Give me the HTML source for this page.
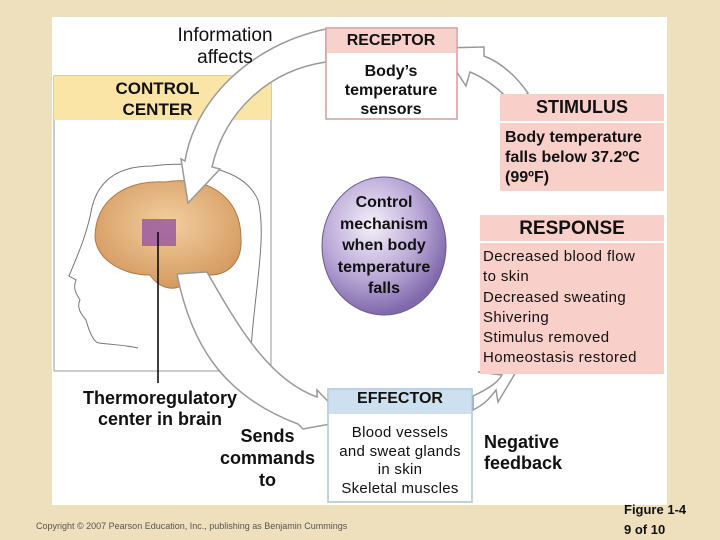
<!DOCTYPE html>
<html><head><style>
body{margin:0;width:720px;height:540px;background:#efe0bd;position:relative;overflow:hidden;font-family:"Liberation Sans",Arial,sans-serif;}
.a{position:absolute;}
.t{position:absolute;text-align:center;font-weight:bold;color:#111;}
</style></head><body>
<div class="a" style="left:52px;top:17px;width:615px;height:488px;background:#fff"></div>
<svg class="a" style="left:0;top:0" width="720" height="540">
<defs>
<radialGradient id="g" cx="40%" cy="35%" r="65%"><stop offset="0" stop-color="#f4f0fa"/><stop offset="0.6" stop-color="#b9a8d6"/><stop offset="1" stop-color="#7f68ab"/></radialGradient>
<radialGradient id="b" cx="50%" cy="40%" r="60%"><stop offset="0" stop-color="#f3cfa0"/><stop offset="1" stop-color="#d49a60"/></radialGradient>
</defs>
<rect x="54" y="76" width="217" height="295" fill="#fff" stroke="#999"/>
<rect x="54" y="76" width="217" height="44" fill="#fbe5a6"/>
<path d="M92,207 C100,175 125,166 152,166 C200,160 245,170 258,200 C268,240 252,300 250,371" fill="none" stroke="#777"/>
<path d="M92,207 C88,230 80,250 69,276 L76,280 C72,290 78,296 80,300 C76,308 82,315 86,320 C90,335 95,343 99,343 C115,345 125,345 138,348" fill="none" stroke="#777"/>
<path d="M95,238 C95,200 125,180 165,182 C205,175 242,195 241,240 C242,262 228,275 210,275 C205,285 192,292 185,282 C178,292 160,290 150,275 C125,275 98,262 95,238 Z" fill="url(#b)" stroke="#b07848"/>
<rect x="142" y="219" width="34" height="27" fill="#9b5aa0" opacity="0.85"/>
<line x1="158" y1="232" x2="158" y2="383" stroke="#000" stroke-width="1.5"/>
<g fill="#fff" stroke="#999" stroke-width="1.5">
<path d="M326,29 C250,45 195,100 185,161 L181,159 L188,203 L220,169 L212,167 C225,110 270,70 326,62 Z"/>
<path d="M177,274 C190,340 220,395 298,424 L303,429 L347,421 L317,390 L317,397 C270,380 240,330 207,272 Z"/>
<path d="M473,410 L473,396 C490,388 498,382 502,375 L478,372 L519,367 L498,402 L496,390 C490,398 485,404 473,410 Z"/>
<path d="M528,93 C515,75 500,62 484,56 L484,47 L441,48 L466,86 L470,72 C490,80 505,95 514,105 Z"/>
</g>
<ellipse cx="384" cy="246" rx="62" ry="69" fill="url(#g)" stroke="#6b5a8e"/>
<rect x="326" y="28" width="131" height="91" fill="#fff" stroke="#d49b9b" stroke-width="1.5"/>
<rect x="327" y="29" width="129" height="24" fill="#f8d0cc"/>
<rect x="500" y="94" width="164" height="97" fill="#f9cfca"/>
<rect x="500" y="121" width="164" height="2" fill="#fff"/>
<rect x="480" y="215" width="184" height="159" fill="#f9cfca"/>
<rect x="480" y="241" width="184" height="2" fill="#fff"/>
<rect x="328" y="389" width="144" height="113" fill="#fff" stroke="#a8c4d8" stroke-width="1.5"/>
<rect x="329" y="390" width="142" height="24" fill="#cde0ef"/>
</svg>
<div class="t" style="left:150px;top:25px;width:150px;font-size:19px;font-weight:normal;line-height:22px">Information<br>affects</div>
<div class="t" style="left:80px;top:78px;width:155px;font-size:17px;line-height:21px">CONTROL<br>CENTER</div>
<div class="t" style="left:326px;top:32px;width:130px;font-size:16px">RECEPTOR</div>
<div class="t" style="left:326px;top:62px;width:130px;font-size:16px;line-height:19px">Body’s<br>temperature<br>sensors</div>
<div class="t" style="left:500px;top:97px;width:164px;font-size:18px">STIMULUS</div>
<div class="t" style="left:505px;top:128px;width:164px;font-size:16px;line-height:20px;text-align:left">Body temperature<br>falls below 37.2ºC<br>(99ºF)</div>
<div class="t" style="left:322px;top:192px;width:124px;font-size:16px;line-height:21.5px">Control<br>mechanism<br>when body<br>temperature<br>falls</div>
<div class="t" style="left:480px;top:218px;width:184px;font-size:19px">RESPONSE</div>
<div class="t" style="left:483px;top:247px;width:184px;font-size:15px;font-weight:normal;line-height:20.3px;text-align:left;letter-spacing:0.4px">Decreased blood flow<br>to skin<br>Decreased sweating<br>Shivering<br>Stimulus removed<br>Homeostasis restored</div>
<div class="t" style="left:60px;top:388px;width:200px;font-size:18px;line-height:21px">Thermoregulatory<br>center in brain</div>
<div class="t" style="left:210px;top:425px;width:115px;font-size:18px;line-height:22px">Sends<br>commands<br>to</div>
<div class="t" style="left:328px;top:390px;width:144px;font-size:16px">EFFECTOR</div>
<div class="t" style="left:328px;top:424px;width:144px;font-size:15px;font-weight:normal;line-height:18.5px;letter-spacing:0.3px">Blood vessels<br>and sweat glands<br>in skin<br>Skeletal muscles</div>
<div class="t" style="left:484px;top:432px;width:100px;font-size:18px;line-height:21px;text-align:left">Negative<br>feedback</div>
<div class="t" style="left:36px;top:521px;width:400px;font-size:9px;font-weight:normal;text-align:left;color:#555">Copyright © 2007 Pearson Education, Inc., publishing as Benjamin Cummings</div>
<div class="t" style="left:624px;top:500px;width:80px;font-size:13px;line-height:20px;text-align:left">Figure 1-4<br>9 of 10</div>
</body></html>
